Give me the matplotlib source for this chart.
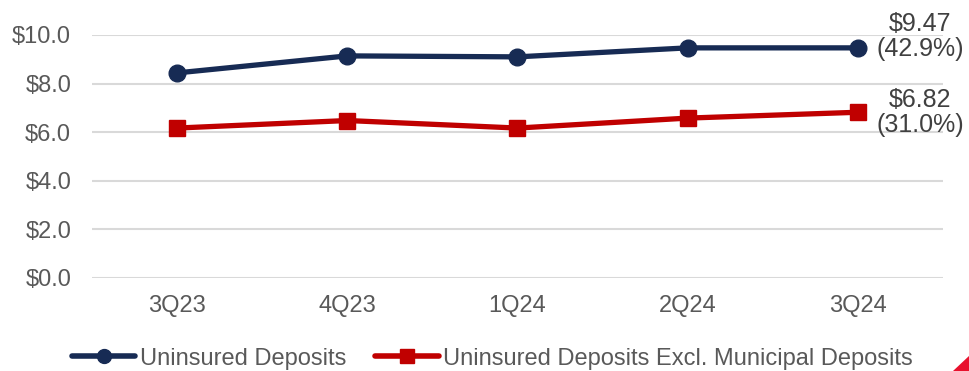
import matplotlib
matplotlib.use("Agg")
import matplotlib.pyplot as plt
from matplotlib.lines import Line2D
from matplotlib.patches import Polygon

quarters = ["3Q23", "4Q23", "1Q24", "2Q24", "3Q24"]
uninsured = [8.44, 9.14, 9.10, 9.47, 9.47]
excl_muni = [6.17, 6.48, 6.17, 6.58, 6.82]
last_labels = ["$9.47\n(42.9%)", "$6.82\n(31.0%)"]
label_lift = [8, 0]  # points above the last marker
series_names = ["Uninsured Deposits", "Uninsured Deposits Excl. Municipal Deposits"]

navy = "#172b54"
red = "#c00000"
grey = "#595959"

plt.rcParams["font.family"] = ["Liberation Sans", "DejaVu Sans"]

fig = plt.figure(figsize=(9.69, 3.71), dpi=100)
ax = fig.add_axes([0.095, 0.2507, 0.878, 0.655])

x = range(len(quarters))
ax.plot(x, uninsured, color=navy, lw=3.8, marker="o", ms=12, zorder=3)
ax.plot(x, excl_muni, color=red, lw=3.8, marker="s", ms=12, zorder=3)

ax.set_xlim(-0.5, 4.5)
ax.set_ylim(0, 10)
ax.set_yticks([0, 2, 4, 6, 8, 10])
ax.set_yticklabels([f"${v:.1f}" for v in [0, 2, 4, 6, 8, 10]])
ax.set_xticks(list(x))
ax.set_xticklabels(quarters)
ax.tick_params(axis="both", length=0, labelsize=17, labelcolor=grey)
ax.tick_params(axis="x", pad=12)
ax.tick_params(axis="y", pad=15)
ax.grid(axis="y", color="#d9d9d9", lw=1.5)
ax.set_axisbelow(True)
for s in ax.spines.values():
    s.set_visible(False)

# value labels next to the last quarter
for vals, txt, lift in zip([uninsured, excl_muni], last_labels, label_lift):
    ax.annotate(txt, (4, vals[-1]), xytext=(45, lift), textcoords="offset points",
                ha="center", va="center", multialignment="center", fontsize=18,
                color="#404040", linespacing=1.05, annotation_clip=False)

handles = [
    Line2D([], [], color=navy, lw=4, marker="o", ms=10, solid_capstyle="round"),
    Line2D([], [], color=red, lw=4, marker="s", ms=10, solid_capstyle="round"),
]
fig.legend(handles, series_names, loc="center left", bbox_to_anchor=(0.074, 0.033),
           ncol=2, frameon=False, borderaxespad=0, borderpad=0,
           fontsize=17, labelcolor=grey,
           handlelength=2.7, handletextpad=0.2, columnspacing=1.2)

# corner of the logo in the bottom right
fig.patches.append(Polygon([(953 / 969, 0), (969 / 969, 15 / 371), (969 / 969, 0)],
                           closed=True, transform=fig.transFigure, color="#e8112d", lw=0))

fig.savefig("out.png", dpi=100)
